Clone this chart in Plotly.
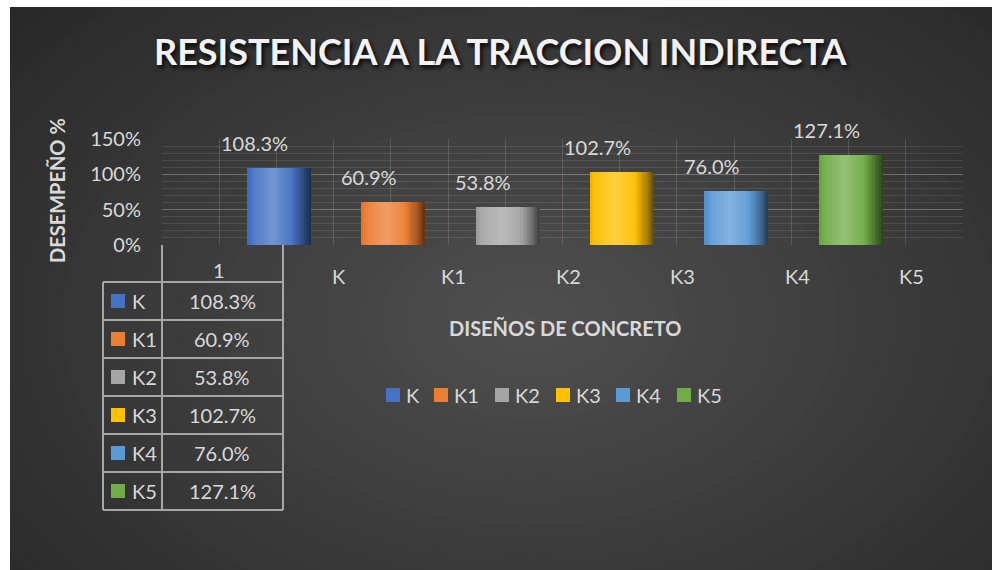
import plotly.graph_objects as go

# ---------------- data ----------------
series_names = ["K", "K1", "K2", "K3", "K4", "K5"]
series_values = [1.083, 0.609, 0.538, 1.027, 0.760, 1.271]
value_labels = ["108.3%", "60.9%", "53.8%", "102.7%", "76.0%", "127.1%"]
axis_categories = ["1", "K", "K1", "K2", "K3", "K4", "K5"]
table_header = "1"
y_tick_values = [0, 0.5, 1.0, 1.5]
y_tick_labels = ["0%", "50%", "100%", "150%"]
series_colors = ["#4472C4", "#ED7D31", "#A5A5A5", "#FFC000", "#5B9BD5", "#70AD47"]

title_text = "RESISTENCIA A LA TRACCION INDIRECTA"
y_title = "DESEMPEÑO %"
x_title = "DISEÑOS DE CONCRETO"

W, H = 992, 570
FONT = "Lato"
TXT = "#d9d9d9"


def px(x):
    return x / W


def py(y):
    return 1 - y / H


def hex2rgb(h):
    h = h.lstrip("#")
    return tuple(int(h[i:i + 2], 16) for i in (0, 2, 4))


def shade(h, f):
    r, g, b = hex2rgb(h)
    if f >= 0:
        r, g, b = [c + (255 - c) * f for c in (r, g, b)]
    else:
        r, g, b = [c * (1 + f) for c in (r, g, b)]
    return "rgb(%d,%d,%d)" % (r, g, b)


profile = [(0, -0.08), (0.12, 0.08), (0.4, 0.25), (0.68, 0.05), (0.88, -0.32), (1.0, -0.62)]


def prof(t):
    for (a, fa), (b, fb) in zip(profile[:-1], profile[1:]):
        if a <= t <= b:
            return fa + (fb - fa) * (t - a) / (b - a)
    return profile[-1][1]


fig = go.Figure()

# bar positions sit on category boundaries (as in the reference)
bar_x = [i + 0.5 for i in range(len(series_values))]
BW = 0.56
N = 30
for k in range(N):
    t = (k + 0.5) / N
    extra = 0.012 if k < N - 1 else 0.0
    fig.add_trace(go.Bar(
        x=bar_x, y=series_values,
        width=[BW / N + extra] * len(bar_x),
        offset=[-BW / 2 + 0.02 + k * BW / N] * len(bar_x),
        marker=dict(color=[shade(c, prof(t)) for c in series_colors], line=dict(width=0)),
        showlegend=False, hoverinfo="skip",
    ))

shapes = []
# background
shapes.append(dict(type="rect", xref="paper", yref="paper", x0=px(10), x1=1, y0=0, y1=py(7),
                   fillcolor="#262626", line=dict(width=0), layer="below"))
NE = 40
cx, cy = 530, 320
RX, RY = 780, 520
c_out, c_in = 36, 80
for i in range(NE):
    t = i / (NE - 1)
    rx = RX * (1 - t) + 8
    ry = RY * (1 - t) + 6
    c = int(c_out + (c_in - c_out) * t)
    shapes.append(dict(type="circle", xref="paper", yref="paper",
                       x0=px(cx - rx), x1=px(cx + rx), y0=py(cy + ry), y1=py(cy - ry),
                       fillcolor="rgb(%d,%d,%d)" % (c, c, c), line=dict(width=0), layer="below"))
shapes.append(dict(type="rect", xref="paper", yref="paper", x0=0, x1=px(10), y0=0, y1=1,
                   fillcolor="white", line=dict(width=0), layer="below"))
shapes.append(dict(type="rect", xref="paper", yref="paper", x0=0, x1=1, y0=py(7), y1=1,
                   fillcolor="white", line=dict(width=0), layer="below"))

# data table lines
LC = "#a6a6a6"
row_lines = [282, 320, 358, 396, 434, 472, 510]
for yy in row_lines:
    shapes.append(dict(type="line", xref="paper", yref="paper", x0=px(103), x1=px(283),
                       y0=py(yy), y1=py(yy), line=dict(color=LC, width=2)))
for xx, ytop in [(103, 282), (162, 245), (283, 245)]:
    shapes.append(dict(type="line", xref="paper", yref="paper", x0=px(xx), x1=px(xx),
                       y0=py(ytop), y1=py(510), line=dict(color=LC, width=2)))


def ann(text, x, y, size=19, bold=False, xanchor="center", xref="paper", yref="paper", **kw):
    d = dict(text=("<b>%s</b>" % text) if bold else text, x=x, y=y, xref=xref, yref=yref,
             showarrow=False, xanchor=xanchor, yanchor="middle",
             font=dict(family=FONT, size=size, color=kw.pop("color", TXT)))
    d.update(kw)
    return d


annotations = []
# title
annotations.append(ann(title_text, px(501), py(51), size=36, bold=True, color="#f2f2f2"))
annotations[-1]["font"]["shadow"] = "2px 3px 4px rgba(0,0,0,0.9)"
# axis titles
annotations.append(ann(y_title, px(57), py(191), size=20, bold=True, textangle=-90))
annotations.append(ann(x_title, px(565), py(328), size=20, bold=True))
# category labels
for i, cat in enumerate(axis_categories):
    annotations.append(ann(cat, i + (0.0 if i == 0 else 0.05), py(270 if i == 0 else 276),
                           size=20, xref="x"))
# data labels
for xv, v, lab in zip(bar_x, series_values, value_labels):
    annotations.append(ann(lab, xv, v, size=20, xref="x", yref="y", xshift=-22, yshift=25))
# table contents
for r, (name, lab, col) in enumerate(zip(series_names, value_labels, series_colors)):
    yc = (row_lines[r] + row_lines[r + 1]) / 2
    shapes.append(dict(type="rect", xref="paper", yref="paper", x0=px(111), x1=px(125),
                       y0=py(yc + 7), y1=py(yc - 7), fillcolor=col, line=dict(width=0)))
    annotations.append(ann(name, px(130), py(yc), size=20, xanchor="left"))
    annotations.append(ann(lab, px(222), py(yc), size=20))
# bottom legend
leg_sq = [386, 434, 495, 556, 616, 677]
for x0, name, col in zip(leg_sq, series_names, series_colors):
    shapes.append(dict(type="rect", xref="paper", yref="paper", x0=px(x0), x1=px(x0 + 14),
                       y0=py(402), y1=py(388), fillcolor=col, line=dict(width=0)))
    annotations.append(ann(name, px(x0 + 18), py(395), size=20, xanchor="left"))

fig.update_layout(
    width=W, height=H, autosize=False,
    margin=dict(l=0, r=0, t=0, b=0, pad=0, autoexpand=False),
    paper_bgcolor="white", plot_bgcolor="rgba(0,0,0,0)",
    barmode="overlay", bargap=0,
    showlegend=False,
    shapes=shapes, annotations=annotations,
    xaxis=dict(domain=[px(162), px(963)], range=[-0.5, 6.5], tickvals=list(range(7)),
               showticklabels=False, showgrid=True, gridcolor="rgba(255,255,255,0.14)", gridwidth=1,
               zeroline=False, showline=False, fixedrange=True, automargin=False,
               minor=dict(tickvals=[i - 0.5 for i in range(8)], showgrid=True,
                          gridcolor="rgba(255,255,255,0.14)", gridwidth=1)),
    yaxis=dict(domain=[py(245), py(139)], range=[0, 1.5], tickvals=y_tick_values,
               ticktext=y_tick_labels, ticklabelstandoff=20, automargin=False,
               tickfont=dict(family=FONT, size=20, color=TXT),
               showgrid=True, gridcolor="rgba(255,255,255,0.2)", gridwidth=1,
               zeroline=False, showline=False, fixedrange=True,
               minor=dict(dtick=0.1, showgrid=True, gridcolor="rgba(255,255,255,0.1)", gridwidth=1)),
)

fig.write_html("out.html", config={"displayModeBar": False},
               post_script="document.body.style.margin='0';document.body.style.overflow='hidden';")
